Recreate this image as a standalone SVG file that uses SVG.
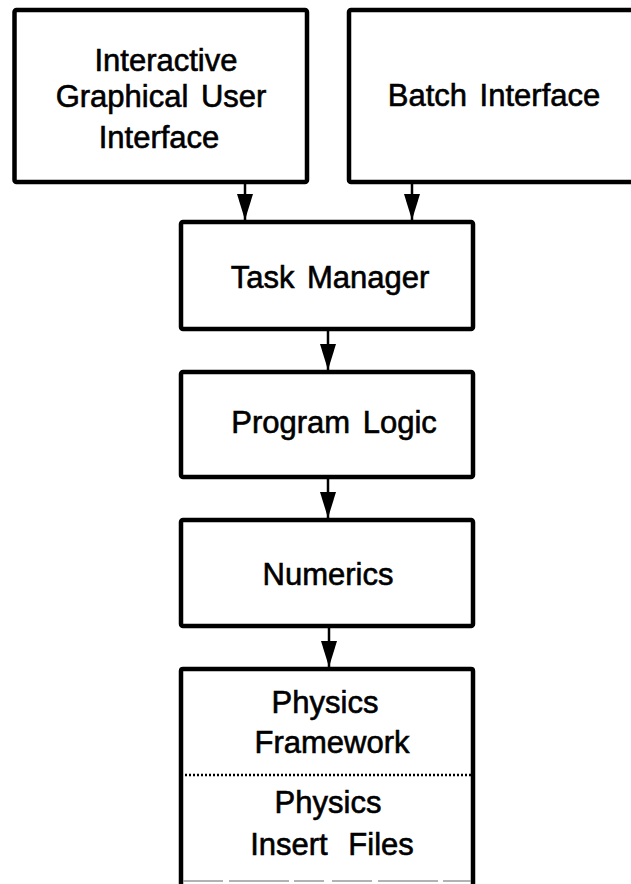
<svg xmlns="http://www.w3.org/2000/svg" width="631" height="884" viewBox="0 0 631 884">
<defs>
<style>
.box{fill:#fff;stroke:#000;stroke-width:4.5}
.t{font-family:"Liberation Sans",Arial,Helvetica,sans-serif;font-size:31px;fill:#000;stroke:#000;stroke-width:0.6;text-anchor:middle;word-spacing:4px}
.c{stroke:#000;stroke-width:2.5;fill:none}
.dot{stroke:#000;stroke-width:2.5;stroke-dasharray:2 2}
</style>
<marker id="ah" markerWidth="26" markerHeight="16" refX="26" refY="8" orient="auto" markerUnits="userSpaceOnUse" viewBox="0 0 26 16">
<path d="M0,0 L26,8 L0,16 Z" fill="#000"/>
</marker>
</defs>
<rect width="631" height="884" fill="#fff"/>
<g id="gui">
<rect class="box" x="14.5" y="10" width="292.5" height="172" rx="2"/>
<text class="t" x="166" y="71">Interactive</text>
<text class="t" x="161" y="107">Graphical User</text>
<text class="t" x="159" y="148">Interface</text>
</g>
<g id="batch">
<rect class="box" x="349" y="10" width="300" height="172" rx="2"/>
<text class="t" x="494" y="106">Batch Interface</text>
</g>
<g id="task">
<rect class="box" x="181" y="222" width="292" height="107" rx="2"/>
<text class="t" x="330" y="288">Task Manager</text>
</g>
<g id="logic">
<rect class="box" x="181" y="372" width="292" height="105" rx="2"/>
<text class="t" x="334" y="433">Program Logic</text>
</g>
<g id="numerics">
<rect class="box" x="181" y="520" width="292" height="106" rx="2"/>
<text class="t" x="328" y="585">Numerics</text>
</g>
<g id="physics">
<path d="M181,900 L181,671 Q181,669 183,669 L471,669 Q473,669 473,671 L473,900" fill="#fff" stroke="#000" stroke-width="4.5"/>
<line class="dot" x1="185" y1="775" x2="472" y2="775"/>
<line x1="183" y1="881" x2="471" y2="881" stroke="#999" stroke-width="1.5" stroke-dasharray="40 6 60 5 30 8"/>
<text class="t" x="325" y="713">Physics</text>
<text class="t" x="332" y="753">Framework</text>
<text class="t" x="328" y="813">Physics</text>
<text class="t" x="332" y="855" style="word-spacing:12px">Insert Files</text>
</g>
<g id="connectors">
<line class="c" x1="245" y1="184" x2="245" y2="220" marker-end="url(#ah)"/>
<line class="c" x1="412" y1="184" x2="412" y2="220" marker-end="url(#ah)"/>
<line class="c" x1="328" y1="331" x2="328" y2="370" marker-end="url(#ah)"/>
<line class="c" x1="328" y1="479" x2="328" y2="518" marker-end="url(#ah)"/>
<line class="c" x1="329" y1="628" x2="329" y2="667" marker-end="url(#ah)"/>
</g>
</svg>
